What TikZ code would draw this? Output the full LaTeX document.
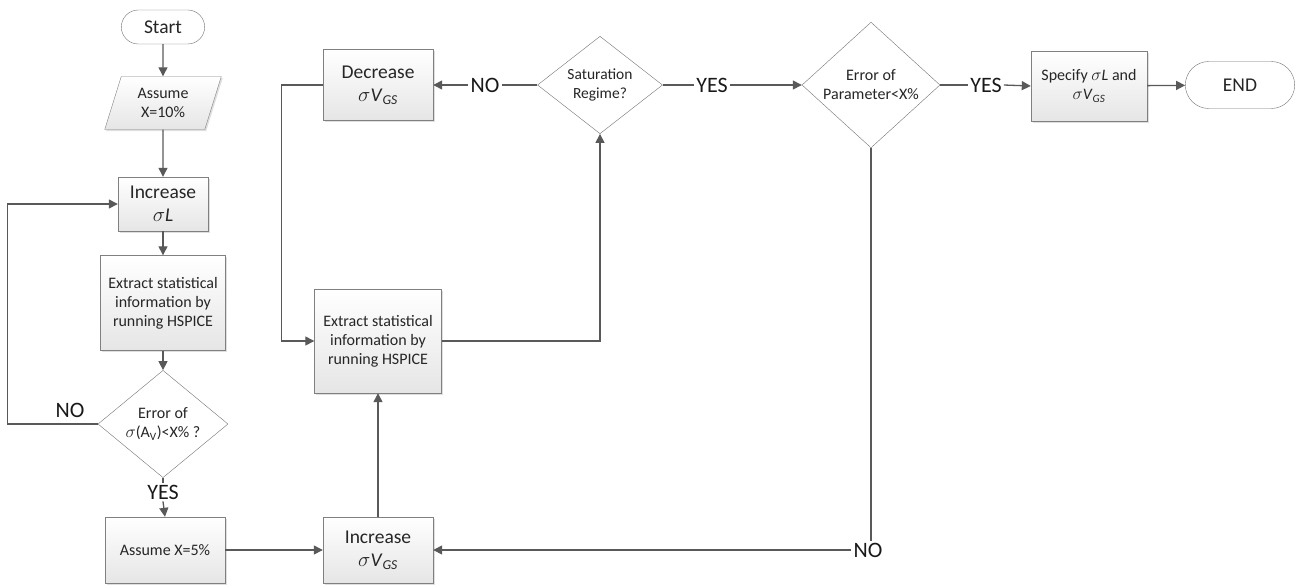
\documentclass[tikz,border=0pt]{standalone}
\usepackage{fontspec}
\setmainfont{Carlito}
\usetikzlibrary{shapes.geometric,shapes.misc,arrows.meta,shadows}

\tikzset{
  box/.style={draw=black!50, top color=white, bottom color=black!10,
    drop shadow={opacity=0.25,shadow xshift=1.5pt,shadow yshift=-1.5pt},
    align=center, text=black!85, font=\fontsize{16}{19}\selectfont, inner sep=2pt},
  bigbox/.style={box, font=\fontsize{19.5}{23}\selectfont},
  para/.style={box, trapezium, trapezium left angle=72, trapezium right angle=108,
    trapezium stretches=true},
  decision/.style={diamond, draw=black!55, fill=white, align=center, text=black!85,
    font=\fontsize{16}{19}\selectfont, inner sep=0pt},
  term/.style={rounded rectangle, draw=black!55, fill=white, text=black!85,
    font=\fontsize{19.5}{23}\selectfont},
  lbl/.style={font=\fontsize{22}{24}\selectfont, text=black!90, inner sep=2pt},
  line/.style={draw=black!65, line width=1.3pt},
  arr/.style={line, -{Triangle[length=9pt,width=9pt]}},
}

\begin{document}
\begin{tikzpicture}[x=1pt, y=-1pt]
    \useasboundingbox (0,0) rectangle (1312,587);

    % Left column
    \node[term, minimum width=90pt, minimum height=34pt] (start) at (163,27) {Start};
    \node[para, minimum width=117pt, minimum height=53pt] (as10) at (163,103) {Assume\\X=10\%};
    \node[bigbox, minimum width=90pt, minimum height=54pt] (incL) at (163,204) {Increase\\$\sigma$\textit{L}};
    \node[box, minimum width=125pt, minimum height=95pt] (ext1) at (163,303) {Extract statistical\\information by\\running HSPICE};
    \node[decision, minimum width=130pt, minimum height=92pt] (err1) at (163,424) {Error of\\$\sigma$(A\textsubscript{V})<X\% ?};
    \node[lbl] (no1) at (70,410) {NO};
    \node[lbl] (yes1) at (163,492) {YES};
    \node[box, minimum width=120pt, minimum height=66pt] (as5) at (165,550) {Assume X=5\%};

    % Middle column
    \node[bigbox, minimum width=110pt, minimum height=66pt] (incV) at (378,550) {Increase\\$\sigma$\textit{V}\textsubscript{\textit{GS}}};
    \node[box, minimum width=127pt, minimum height=104pt] (ext2) at (378,341) {Extract statistical\\information by\\running HSPICE};
    \node[bigbox, minimum width=110pt, minimum height=71pt] (decV) at (378,85) {Decrease\\$\sigma$\textit{V}\textsubscript{\textit{GS}}};
    \node[decision, font=\fontsize{15.5}{19}\selectfont, minimum width=125pt, minimum height=89pt] (sat) at (600,85) {Saturation\\Regime?};
    \node[lbl] (no2) at (485,85) {NO};
    \node[lbl] (yes2) at (712,85) {YES};

    % Right part
    \node[decision, minimum width=138pt, minimum height=106pt] (err2) at (871,85) {Error of\\Parameter<X\%};
    \node[lbl] (yes3) at (986,85) {YES};
    \node[box, minimum width=116pt, minimum height=70pt] (spec) at (1089,86) {Specify $\sigma$\textit{L} and\\$\sigma$\textit{V}\textsubscript{\textit{GS}}};
    \node[term, minimum width=116pt, minimum height=47pt] (end) at (1240,85) {END};
    \node[lbl] (no3) at (868,550) {NO};

    % Connectors
    \draw[arr] (start) -- (as10);
    \draw[arr] (as10) -- (incL);
    \draw[arr] (incL) -- (ext1);
    \draw[arr] (ext1) -- (err1);
    \draw[arr] (err1.west) -- ++(-90,0) |- (incL.west);
    \draw[line] (err1.south) -- (yes1.north);
    \draw[arr] (yes1.south) -- (as5.north);
    \draw[arr] (as5) -- (incV);
    \draw[arr] (incV) -- (ext2);
    \draw[arr] (ext2.east) -| (sat.south);
    \draw[line] (sat.west) -- (no2.east);
    \draw[arr] (no2.west) -- (decV.east);
    \draw[arr] (decV.west) -- ++(-41,0) |- (ext2.west);
    \draw[line] (sat.east) -- (yes2.west);
    \draw[arr] (yes2.east) -- (err2.west);
    \draw[line] (err2.east) -- (yes3.west);
    \draw[arr] (yes3.east) -- (spec.west);
    \draw[arr] (spec) -- (end);
    \draw[line] (err2.south) -- (err2.south |- no3.north);
    \draw[arr] (no3.west) -- (incV.east);
\end{tikzpicture}
\end{document}
